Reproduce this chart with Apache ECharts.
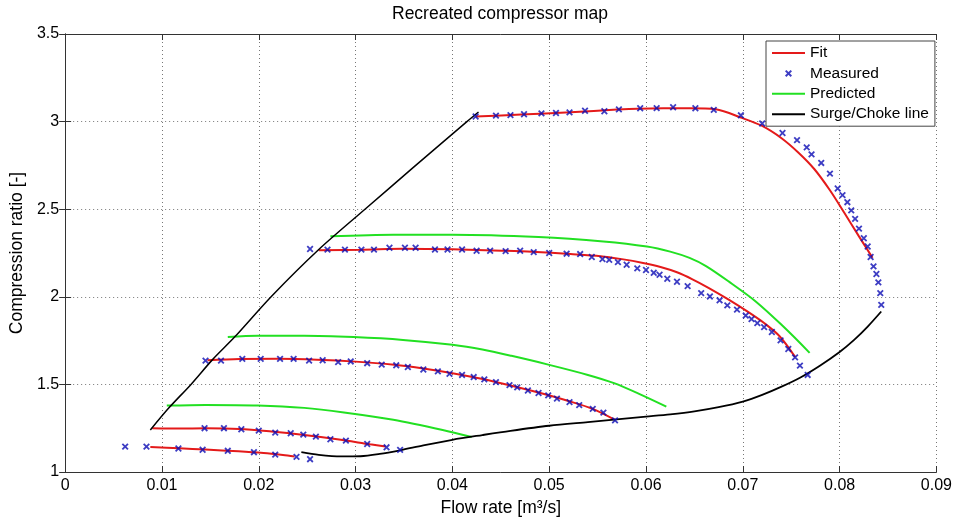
<!DOCTYPE html>
<html><head><meta charset="utf-8">
<script src="https://cdn.jsdelivr.net/npm/echarts@6/dist/echarts.min.js"></script>
<style>html,body{margin:0;padding:0;background:#fff}#c{width:955px;height:524px}</style>
</head><body><div id="c"></div>
<script>
// ---- tick labels ----
const xTickLabels = ['0','0.01','0.02','0.03','0.04','0.05','0.06','0.07','0.08','0.09'];
const yTickLabels = ['1','1.5','2','2.5','3','3.5'];

// ---- Fit (red) speed lines ----
const fit1 = [[0.0088,1.142],[0.0118,1.135],[0.0145,1.128],[0.0179,1.118],[0.0205,1.108],[0.0225,1.097],[0.0237,1.089]];
const fit2 = [[0.0090,1.250],[0.0118,1.248],[0.0145,1.250],[0.0180,1.246],[0.0213,1.231],[0.0247,1.211],[0.0281,1.187],[0.0315,1.158],[0.0331,1.145]];
const fit3 = [[0.0147,1.638],[0.0180,1.645],[0.0220,1.646],[0.0260,1.641],[0.0300,1.630],[0.0340,1.612],[0.0370,1.591],[0.0400,1.564],[0.0430,1.532],[0.0460,1.494],[0.0490,1.452],[0.0520,1.405],[0.0545,1.360],[0.0568,1.297]];
const fit4 = [[0.0262,2.266],[0.0308,2.269],[0.0349,2.274],[0.0400,2.271],[0.0451,2.263],[0.0482,2.257],[0.0522,2.244],[0.0553,2.232],[0.0575,2.215],[0.0597,2.193],[0.0615,2.170],[0.0632,2.140],[0.0648,2.100],[0.0665,2.050],[0.0685,1.985],[0.0705,1.915],[0.0722,1.850],[0.0738,1.775],[0.0754,1.657]];
const fit5 = [[0.0424,3.029],[0.0471,3.040],[0.0522,3.053],[0.0570,3.069],[0.0591,3.074],[0.0645,3.076],[0.0672,3.070],[0.0699,3.021],[0.0720,2.975],[0.0740,2.905],[0.0757,2.825],[0.0774,2.728],[0.0790,2.608],[0.0805,2.478],[0.0820,2.345],[0.0834,2.223]];

// ---- Measured (blue x) ----
const meas1 = [[0.0062,1.145],[0.0084,1.145],[0.0117,1.134],[0.0142,1.127],[0.0168,1.121],[0.0195,1.113],[0.0217,1.099],[0.0239,1.086],[0.0253,1.073]];
const meas2 = [[0.0144,1.250],[0.0164,1.250],[0.0182,1.244],[0.0200,1.236],[0.0217,1.225],[0.0233,1.221],[0.0246,1.213],[0.0259,1.202],[0.0274,1.187],[0.0290,1.179],[0.0312,1.160],[0.0332,1.141],[0.0346,1.126]];
const meas3 = [[0.0145,1.636],[0.0161,1.636],[0.0183,1.646],[0.0202,1.646],[0.0222,1.646],[0.0236,1.646],[0.0252,1.636],[0.0266,1.638],[0.0282,1.627],[0.0295,1.631],[0.0312,1.621],[0.0327,1.613],[0.0342,1.609],[0.0354,1.599],[0.0370,1.585],[0.0385,1.574],[0.0397,1.560],[0.0410,1.554],[0.0422,1.542],[0.0433,1.529],[0.0445,1.513],[0.0459,1.496],[0.0467,1.483],[0.0478,1.465],[0.0489,1.451],[0.0499,1.437],[0.0508,1.419],[0.0521,1.399],[0.0531,1.382],[0.0545,1.360],[0.0556,1.339],[0.0568,1.295]];
const meas4 = [[0.0253,2.273],[0.0271,2.269],[0.0289,2.269],[0.0306,2.269],[0.0319,2.269],[0.0335,2.280],[0.0351,2.280],[0.0362,2.280],[0.0382,2.270],[0.0395,2.270],[0.0410,2.270],[0.0425,2.263],[0.0439,2.263],[0.0455,2.261],[0.0470,2.263],[0.0484,2.255],[0.0500,2.250],[0.0518,2.246],[0.0532,2.244],[0.0544,2.227],[0.0555,2.215],[0.0562,2.211],[0.0571,2.198],[0.0580,2.183],[0.0591,2.162],[0.0600,2.153],[0.0608,2.137],[0.0614,2.126],[0.0622,2.103],[0.0632,2.086],[0.0643,2.061],[0.0657,2.021],[0.0666,2.002],[0.0676,1.980],[0.0684,1.951],[0.0694,1.927],[0.0703,1.893],[0.0709,1.873],[0.0715,1.850],[0.0722,1.827],[0.0730,1.799],[0.0739,1.751],[0.0747,1.702],[0.0754,1.654],[0.0759,1.607],[0.0767,1.554]];
const meas5 = [[0.0424,3.029],[0.0445,3.034],[0.0460,3.037],[0.0474,3.042],[0.0492,3.047],[0.0507,3.049],[0.0521,3.053],[0.0537,3.062],[0.0557,3.059],[0.0572,3.070],[0.0594,3.076],[0.0611,3.077],[0.0628,3.082],[0.0651,3.076],[0.0670,3.067],[0.0698,3.036],[0.0720,2.989],[0.0741,2.935],[0.0756,2.894],[0.0766,2.853],[0.0771,2.813],[0.0781,2.764],[0.0790,2.703],[0.0798,2.618],[0.0803,2.580],[0.0808,2.540],[0.0812,2.493],[0.0816,2.445],[0.0820,2.389],[0.0825,2.334],[0.0829,2.287],[0.0832,2.227],[0.0835,2.174],[0.0838,2.130],[0.0840,2.082],[0.0842,2.021],[0.0843,1.954]];

// ---- Predicted (green) ----
const pred2 = [[0.0105,1.379],[0.0145,1.383],[0.0199,1.380],[0.0247,1.366],[0.0288,1.340],[0.0339,1.298],[0.0390,1.240],[0.0420,1.200]];
const pred3 = [[0.0168,1.770],[0.0199,1.778],[0.0247,1.778],[0.0298,1.770],[0.0349,1.754],[0.0400,1.726],[0.0431,1.699],[0.0461,1.663],[0.0499,1.613],[0.0540,1.554],[0.0567,1.507],[0.0594,1.443],[0.0621,1.373]];
const pred4 = [[0.0274,2.345],[0.0339,2.354],[0.0400,2.354],[0.0489,2.341],[0.0556,2.316],[0.0601,2.287],[0.0625,2.258],[0.0645,2.222],[0.0662,2.175],[0.0686,2.085],[0.0713,1.975],[0.0740,1.840],[0.0769,1.680]];

// ---- Surge / Choke (black) ----
const surge = [[0.0088,1.240],[0.0107,1.365],[0.0130,1.500],[0.0152,1.640],[0.0175,1.770],[0.0213,2.002],[0.0262,2.270],[0.0310,2.501],[0.0360,2.740],[0.0415,3.000],[0.0427,3.055]];
const choke = [[0.0244,1.113],[0.0262,1.098],[0.0285,1.089],[0.0305,1.090],[0.0325,1.103],[0.0346,1.124],[0.0370,1.152],[0.0400,1.184],[0.0431,1.211],[0.0460,1.235],[0.0500,1.264],[0.0540,1.285],[0.0567,1.299],[0.0600,1.316],[0.0625,1.329],[0.0650,1.346],[0.0675,1.370],[0.0700,1.402],[0.0720,1.440],[0.0740,1.487],[0.0760,1.541],[0.0780,1.608],[0.0800,1.685],[0.0815,1.754],[0.0829,1.830],[0.0843,1.916]];

const FONT = "'Liberation Sans', Arial, Helvetica, sans-serif";
const RED = '#e41a1a', GREEN = '#22e022', BLACK = '#000000', BLUE = '#0c0cb4';
const LINE_ICON = 'path://M0,0H33V2H0Z';

function line(name, data, color, width, z) {
  return { type: 'line', name: name, data: data, symbol: 'none', smooth: 0.3,
    lineStyle: { color: color, width: width }, itemStyle: { color: color }, z: z, silent: true };
}

const measured = [].concat(meas1, meas2, meas3, meas4, meas5);

const chart = echarts.init(document.getElementById('c'), null, { renderer: 'canvas' });
chart.setOption({
  animation: false,
  backgroundColor: '#ffffff',
  textStyle: { fontFamily: FONT },
  title: { text: 'Recreated compressor map', left: 387, top: 0,
    textStyle: { fontSize: 17.5, fontWeight: 'normal', color: '#000', fontFamily: FONT } },
  grid: { left: 58, right: 15, top: 34, bottom: 52, containLabel: false },
  legend: {
    orient: 'vertical', left: 766, top: 41, padding: [4, 6, 4, 6],
    itemWidth: 33, itemHeight: 14, itemGap: 4.4,
    backgroundColor: '#ffffff', borderColor: '#444', borderWidth: 1,
    textStyle: { fontSize: 15.5, lineHeight: 14, color: '#000', fontFamily: FONT },
    data: [{ name: 'Fit', icon: LINE_ICON }, { name: 'Measured' }, { name: 'Predicted', icon: LINE_ICON }, { name: 'Surge/Choke line', icon: LINE_ICON }],
    selectedMode: false
  },
  xAxis: [{
    type: 'value', min: 0, max: 0.09, interval: 0.01, position: 'bottom',
    axisLine: { show: true, lineStyle: { color: '#333', width: 1 } },
    axisTick: { show: true, inside: true, length: 6, lineStyle: { color: '#333' } },
    axisLabel: { margin: 6, fontSize: 16, color: '#000', fontFamily: FONT,
      formatter: function (v) { return xTickLabels[Math.round(v / 0.01)]; } },
    splitLine: { show: true, lineStyle: { type: [1, 3], color: '#777', width: 1 } },
    name: 'Flow rate [m³/s]', nameLocation: 'middle', nameGap: 26,
    nameTextStyle: { fontSize: 17.5, color: '#000', fontFamily: FONT }
  }, {
    type: 'value', min: 0, max: 0.09, interval: 0.01, position: 'top',
    axisLine: { show: true, lineStyle: { color: '#333', width: 1 } },
    axisTick: { show: true, inside: true, length: 6, lineStyle: { color: '#333' } },
    axisLabel: { show: false }, splitLine: { show: false }
  }],
  yAxis: [{
    type: 'value', min: 1, max: 3.5, interval: 0.5, position: 'left',
    axisLine: { show: true, lineStyle: { color: '#333', width: 1 } },
    axisTick: { show: true, inside: true, length: 6, lineStyle: { color: '#333' } },
    axisLabel: { margin: 6, fontSize: 16, color: '#000', fontFamily: FONT,
      formatter: function (v) { return yTickLabels[Math.round((v - 1) / 0.5)]; } },
    splitLine: { show: true, lineStyle: { type: [1, 3], color: '#777', width: 1 } },
    name: 'Compression ratio [-]', nameLocation: 'middle', nameGap: 31, nameRotate: 90,
    nameTextStyle: { fontSize: 17.5, color: '#000', fontFamily: FONT }
  }, {
    type: 'value', min: 1, max: 3.5, interval: 0.5, position: 'right',
    axisLine: { show: true, lineStyle: { color: '#333', width: 1 } },
    axisTick: { show: true, inside: true, length: 6, lineStyle: { color: '#333' } },
    axisLabel: { show: false }, splitLine: { show: false }
  }],
  series: [
    line('Fit', fit1, RED, 2, 2), line('Fit', fit2, RED, 2, 2), line('Fit', fit3, RED, 2, 2),
    line('Fit', fit4, RED, 2, 2), line('Fit', fit5, RED, 2, 2),
    line('Predicted', pred2, GREEN, 2, 3), line('Predicted', pred3, GREEN, 2, 3), line('Predicted', pred4, GREEN, 2, 3),
    line('Surge/Choke line', surge, BLACK, 1.5, 4), line('Surge/Choke line', choke, BLACK, 1.8, 4),
    { type: 'scatter', name: 'Measured', data: measured, z: 5, silent: true,
      symbol: 'path://M0,0M20,20M6,6L14,14M14,6L6,14', symbolSize: 14, symbolKeepAspect: true,
      itemStyle: { color: BLUE, borderColor: BLUE, borderWidth: 1.8 } }
  ]
});
</script></body></html>
